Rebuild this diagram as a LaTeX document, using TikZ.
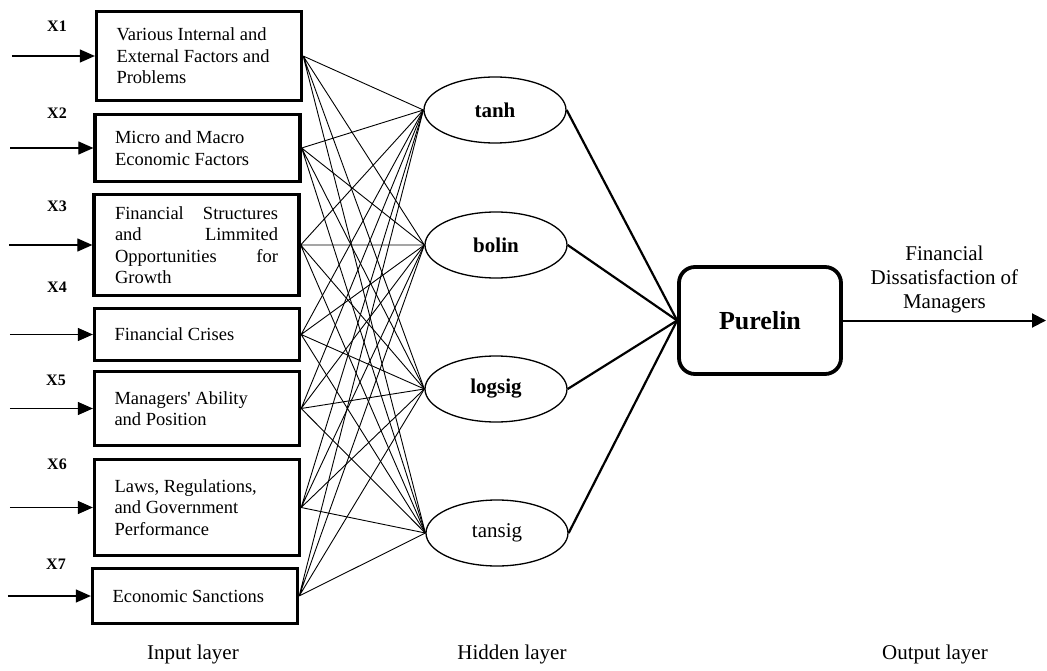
\documentclass[tikz,border=0pt]{standalone}
\usepackage{fontspec}
\setmainfont{Liberation Serif}
\usetikzlibrary{shapes.geometric,arrows.meta}

\begin{document}
\begin{tikzpicture}[x=1pt,y=-1pt,
inbox/.style={draw, line width=3.3pt, minimum width=205pt, text width=165pt, align=flush left, font=\fontsize{18.5}{21.5}\selectfont},
hid/.style={ellipse, draw, line width=1.3pt, minimum width=142pt, minimum height=66pt, font=\fontsize{21}{24}\selectfont},
outbox/.style={draw, rounded corners=16pt, line width=3.8pt, minimum width=162pt, minimum height=107pt, font=\bfseries\fontsize{26}{30}\selectfont},
xlab/.style={font=\bfseries\fontsize{16}{18}\selectfont},
lab/.style={font=\fontsize{21}{24}\selectfont},
link/.style={line width=0.9pt},
feed/.style={line width=2.2pt},
arr/.style={-{Triangle[length=15pt,width=13pt]}, line width=1.2pt}
]
\useasboundingbox (0,0) rectangle (1047,671);
\node[inbox, minimum height=89pt] (b1) at (199,56) {Various Internal and\\External Factors and\\Problems};
\node[inbox, minimum height=67pt] (b2) at (197.5,148) {Micro and Macro\\Economic Factors};
\node[inbox, minimum height=101pt, text width=163pt, align=justify] (b3) at (196.5,245) {Financial Structures\linebreak and Limmited\linebreak Opportunities for\linebreak Growth};
\node[inbox, minimum height=52pt] (b4) at (197,334.5) {Financial Crises};
\node[inbox, minimum height=74pt] (b5) at (197,408.5) {Managers\textquotesingle\ Ability\\and Position};
\node[inbox, minimum height=96pt] (b6) at (197,507.5) {Laws, Regulations,\\and Government\\Performance};
\node[inbox, minimum height=55pt] (b7) at (195,596) {Economic Sanctions};
\node[xlab] (x1) at (57,26) {X1};
\node[xlab] (x2) at (57,113) {X2};
\node[xlab] (x3) at (57,206) {X3};
\node[xlab] (x4) at (57,287) {X4};
\node[xlab] (x5) at (56,380) {X5};
\node[xlab] (x6) at (57,464) {X6};
\node[xlab] (x7) at (56,564) {X7};
\draw[arr] ([xshift=-83pt]b1.west) -- (b1.west);
\draw[arr] ([xshift=-83pt]b2.west) -- (b2.west);
\draw[arr] ([xshift=-83pt]b3.west) -- (b3.west);
\draw[arr] ([xshift=-83pt]b4.west) -- (b4.west);
\draw[arr] ([xshift=-83pt]b5.west) -- (b5.west);
\draw[arr] ([xshift=-83pt]b6.west) -- (b6.west);
\draw[arr] ([xshift=-83pt]b7.west) -- (b7.west);
\node[hid] (h1) at (495,110) {\bfseries tanh};
\node[hid] (h2) at (496,245) {\bfseries bolin};
\node[hid] (h3) at (496,389) {\bfseries logsig};
\node[hid] (h4) at (497,533) {tansig};
\draw[link] (b1.east) -- (h1.west) (b1.east) -- (h2.west) (b1.east) -- (h3.west) (b1.east) -- (h4.west);
\draw[link] (b2.east) -- (h1.west) (b2.east) -- (h2.west) (b2.east) -- (h3.west) (b2.east) -- (h4.west);
\draw[link] (b3.east) -- (h1.west) (b3.east) -- (h2.west) (b3.east) -- (h3.west) (b3.east) -- (h4.west);
\draw[link] (b4.east) -- (h1.west) (b4.east) -- (h2.west) (b4.east) -- (h3.west) (b4.east) -- (h4.west);
\draw[link] (b5.east) -- (h1.west) (b5.east) -- (h2.west) (b5.east) -- (h3.west) (b5.east) -- (h4.west);
\draw[link] (b6.east) -- (h1.west) (b6.east) -- (h2.west) (b6.east) -- (h3.west) (b6.east) -- (h4.west);
\draw[link] (b7.east) -- (h1.west) (b7.east) -- (h2.west) (b7.east) -- (h3.west) (b7.east) -- (h4.west);
\node[outbox] (out) at (760,320.5) {Purelin};
\draw[feed] (h1.east) -- (out.west);
\draw[feed] (h2.east) -- (out.west);
\draw[feed] (h3.east) -- (out.west);
\draw[feed] (h4.east) -- (out.west);
\coordinate (res) at (1046,320.5);
\draw[-{Triangle[length=14pt,width=14pt]}, line width=2pt] (out.east) -- (res) node[midway, above=3pt, lab, align=flush center] {Financial\\Dissatisfaction of\\Managers};
\node[lab] (inl) at (193,654) {Input layer};
\node[lab] (hdl) at (512,654) {Hidden layer};
\node[lab] (otl) at (935,654) {Output layer};
\end{tikzpicture}
\end{document}
